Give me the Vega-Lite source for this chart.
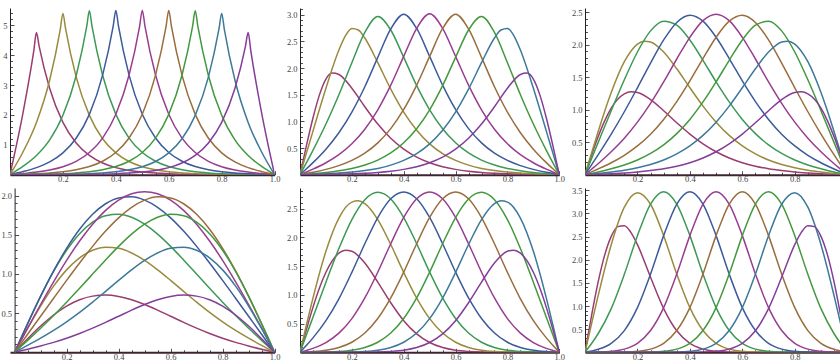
{
"$schema": "https://vega.github.io/schema/vega-lite/v6.json",
"background": "white",
"padding": {"left": 0, "top": 5, "right": 0, "bottom": 0},
"bounds": "flush",
"columns": 3,
"spacing": {"row": 13, "column": 25},
"config": {
  "view": {"stroke": null},
  "axis": {"grid": false, "title": null, "domainColor": "#222222", "tickColor": "#222222", "domainWidth": 1, "tickWidth": 0.8, "labelFont": "Liberation Serif", "labelFontSize": 8.5, "labelColor": "#444444", "labelFlush": false, "labelOverlap": false, "labelBound": false},
  "axisX": {"domainColor": "#3d2430", "domainWidth": 2, "labelBaseline": "top", "labelPadding": 4},
  "axisY": {"labelPadding": 7}
},
"datasets": {
"p1": [
{"m":1,"x":0,"y":0},{"m":1,"x":0.05,"y":2.109},{"m":1,"x":0.09,"y":4.154},{"m":1,"x":0.1,"y":4.756},{"m":1,"x":0.11,"y":4.303},{"m":1,"x":0.15,"y":2.885},{"m":1,"x":0.2,"y":1.75},{"m":1,"x":0.25,"y":1.061},{"m":1,"x":0.3,"y":0.644},{"m":1,"x":0.35,"y":0.39},{"m":1,"x":0.4,"y":0.237},{"m":1,"x":0.45,"y":0.144},{"m":1,"x":0.5,"y":0.087},{"m":1,"x":0.55,"y":0.053},{"m":1,"x":0.6,"y":0.032},{"m":1,"x":0.65,"y":0.019},{"m":1,"x":0.7,"y":0.012},{"m":1,"x":0.75,"y":0.007},{"m":1,"x":0.8,"y":0.004},{"m":1,"x":0.85,"y":0.003},{"m":1,"x":0.9,"y":0.001},{"m":1,"x":1,"y":0},
{"m":2,"x":0,"y":0},{"m":2,"x":0.05,"y":0.776},{"m":2,"x":0.1,"y":1.75},{"m":2,"x":0.15,"y":3.17},{"m":2,"x":0.19,"y":4.866},{"m":2,"x":0.2,"y":5.4},{"m":2,"x":0.21,"y":4.886},{"m":2,"x":0.25,"y":3.275},{"m":2,"x":0.3,"y":1.987},{"m":2,"x":0.35,"y":1.205},{"m":2,"x":0.4,"y":0.731},{"m":2,"x":0.45,"y":0.443},{"m":2,"x":0.5,"y":0.269},{"m":2,"x":0.55,"y":0.163},{"m":2,"x":0.6,"y":0.099},{"m":2,"x":0.65,"y":0.06},{"m":2,"x":0.7,"y":0.036},{"m":2,"x":0.75,"y":0.022},{"m":2,"x":0.8,"y":0.013},{"m":2,"x":0.85,"y":0.008},{"m":2,"x":0.9,"y":0.004},{"m":2,"x":0.95,"y":0.002},{"m":2,"x":1,"y":0},
{"m":3,"x":0,"y":0},{"m":3,"x":0.05,"y":0.285},{"m":3,"x":0.1,"y":0.644},{"m":3,"x":0.15,"y":1.166},{"m":3,"x":0.2,"y":1.987},{"m":3,"x":0.25,"y":3.314},{"m":3,"x":0.29,"y":4.962},{"m":3,"x":0.3,"y":5.487},{"m":3,"x":0.31,"y":4.965},{"m":3,"x":0.35,"y":3.328},{"m":3,"x":0.4,"y":2.019},{"m":3,"x":0.45,"y":1.224},{"m":3,"x":0.5,"y":0.743},{"m":3,"x":0.55,"y":0.45},{"m":3,"x":0.6,"y":0.273},{"m":3,"x":0.65,"y":0.166},{"m":3,"x":0.7,"y":0.1},{"m":3,"x":0.75,"y":0.061},{"m":3,"x":0.8,"y":0.036},{"m":3,"x":0.85,"y":0.021},{"m":3,"x":0.9,"y":0.012},{"m":3,"x":0.95,"y":0.005},{"m":3,"x":1,"y":0},
{"m":4,"x":0,"y":0},{"m":4,"x":0.05,"y":0.105},{"m":4,"x":0.1,"y":0.237},{"m":4,"x":0.15,"y":0.429},{"m":4,"x":0.2,"y":0.731},{"m":4,"x":0.25,"y":1.219},{"m":4,"x":0.3,"y":2.019},{"m":4,"x":0.35,"y":3.333},{"m":4,"x":0.39,"y":4.976},{"m":4,"x":0.4,"y":5.499},{"m":4,"x":0.41,"y":4.976},{"m":4,"x":0.45,"y":3.335},{"m":4,"x":0.5,"y":2.023},{"m":4,"x":0.55,"y":1.227},{"m":4,"x":0.6,"y":0.744},{"m":4,"x":0.65,"y":0.451},{"m":4,"x":0.7,"y":0.273},{"m":4,"x":0.75,"y":0.165},{"m":4,"x":0.8,"y":0.099},{"m":4,"x":0.85,"y":0.058},{"m":4,"x":0.9,"y":0.032},{"m":4,"x":0.95,"y":0.014},{"m":4,"x":1,"y":0},
{"m":5,"x":0,"y":0},{"m":5,"x":0.05,"y":0.039},{"m":5,"x":0.1,"y":0.087},{"m":5,"x":0.15,"y":0.158},{"m":5,"x":0.2,"y":0.269},{"m":5,"x":0.25,"y":0.448},{"m":5,"x":0.3,"y":0.743},{"m":5,"x":0.35,"y":1.226},{"m":5,"x":0.4,"y":2.023},{"m":5,"x":0.45,"y":3.336},{"m":5,"x":0.49,"y":4.977},{"m":5,"x":0.5,"y":5.5},{"m":5,"x":0.51,"y":4.977},{"m":5,"x":0.55,"y":3.336},{"m":5,"x":0.6,"y":2.023},{"m":5,"x":0.65,"y":1.226},{"m":5,"x":0.7,"y":0.743},{"m":5,"x":0.75,"y":0.448},{"m":5,"x":0.8,"y":0.269},{"m":5,"x":0.85,"y":0.158},{"m":5,"x":0.9,"y":0.087},{"m":5,"x":0.95,"y":0.039},{"m":5,"x":1,"y":0},
{"m":6,"x":0,"y":0},{"m":6,"x":0.05,"y":0.014},{"m":6,"x":0.1,"y":0.032},{"m":6,"x":0.15,"y":0.058},{"m":6,"x":0.2,"y":0.099},{"m":6,"x":0.25,"y":0.165},{"m":6,"x":0.3,"y":0.273},{"m":6,"x":0.35,"y":0.451},{"m":6,"x":0.4,"y":0.744},{"m":6,"x":0.45,"y":1.227},{"m":6,"x":0.5,"y":2.023},{"m":6,"x":0.55,"y":3.335},{"m":6,"x":0.59,"y":4.976},{"m":6,"x":0.6,"y":5.499},{"m":6,"x":0.61,"y":4.976},{"m":6,"x":0.65,"y":3.333},{"m":6,"x":0.7,"y":2.019},{"m":6,"x":0.75,"y":1.219},{"m":6,"x":0.8,"y":0.731},{"m":6,"x":0.85,"y":0.429},{"m":6,"x":0.9,"y":0.237},{"m":6,"x":0.95,"y":0.105},{"m":6,"x":1,"y":0},
{"m":7,"x":0,"y":0},{"m":7,"x":0.05,"y":0.005},{"m":7,"x":0.1,"y":0.012},{"m":7,"x":0.15,"y":0.021},{"m":7,"x":0.2,"y":0.036},{"m":7,"x":0.25,"y":0.061},{"m":7,"x":0.3,"y":0.1},{"m":7,"x":0.35,"y":0.166},{"m":7,"x":0.4,"y":0.273},{"m":7,"x":0.45,"y":0.45},{"m":7,"x":0.5,"y":0.743},{"m":7,"x":0.55,"y":1.224},{"m":7,"x":0.6,"y":2.019},{"m":7,"x":0.65,"y":3.328},{"m":7,"x":0.69,"y":4.965},{"m":7,"x":0.7,"y":5.487},{"m":7,"x":0.71,"y":4.962},{"m":7,"x":0.75,"y":3.314},{"m":7,"x":0.8,"y":1.987},{"m":7,"x":0.85,"y":1.166},{"m":7,"x":0.9,"y":0.644},{"m":7,"x":0.95,"y":0.285},{"m":7,"x":1,"y":0},
{"m":8,"x":0,"y":0},{"m":8,"x":0.05,"y":0.002},{"m":8,"x":0.1,"y":0.004},{"m":8,"x":0.15,"y":0.008},{"m":8,"x":0.2,"y":0.013},{"m":8,"x":0.25,"y":0.022},{"m":8,"x":0.3,"y":0.036},{"m":8,"x":0.35,"y":0.06},{"m":8,"x":0.4,"y":0.099},{"m":8,"x":0.45,"y":0.163},{"m":8,"x":0.5,"y":0.269},{"m":8,"x":0.55,"y":0.443},{"m":8,"x":0.6,"y":0.731},{"m":8,"x":0.65,"y":1.205},{"m":8,"x":0.7,"y":1.987},{"m":8,"x":0.75,"y":3.275},{"m":8,"x":0.79,"y":4.886},{"m":8,"x":0.8,"y":5.4},{"m":8,"x":0.81,"y":4.866},{"m":8,"x":0.85,"y":3.17},{"m":8,"x":0.9,"y":1.75},{"m":8,"x":0.95,"y":0.776},{"m":8,"x":1,"y":0},
{"m":9,"x":0,"y":0},{"m":9,"x":0.1,"y":0.001},{"m":9,"x":0.15,"y":0.003},{"m":9,"x":0.2,"y":0.004},{"m":9,"x":0.25,"y":0.007},{"m":9,"x":0.3,"y":0.012},{"m":9,"x":0.35,"y":0.019},{"m":9,"x":0.4,"y":0.032},{"m":9,"x":0.45,"y":0.053},{"m":9,"x":0.5,"y":0.087},{"m":9,"x":0.55,"y":0.144},{"m":9,"x":0.6,"y":0.237},{"m":9,"x":0.65,"y":0.39},{"m":9,"x":0.7,"y":0.644},{"m":9,"x":0.75,"y":1.061},{"m":9,"x":0.8,"y":1.75},{"m":9,"x":0.85,"y":2.885},{"m":9,"x":0.89,"y":4.303},{"m":9,"x":0.9,"y":4.756},{"m":9,"x":0.91,"y":4.154},{"m":9,"x":0.95,"y":2.109},{"m":9,"x":1,"y":0}
],
"p2": [
{"m":1,"x":0,"y":0},{"m":1,"x":0.025,"y":0.55},{"m":1,"x":0.05,"y":1.063},{"m":1,"x":0.075,"y":1.497},{"m":1,"x":0.1,"y":1.794},{"m":1,"x":0.125,"y":1.905},{"m":1,"x":0.15,"y":1.88},{"m":1,"x":0.2,"y":1.621},{"m":1,"x":0.25,"y":1.274},{"m":1,"x":0.3,"y":0.95},{"m":1,"x":0.35,"y":0.683},{"m":1,"x":0.4,"y":0.479},{"m":1,"x":0.45,"y":0.33},{"m":1,"x":0.5,"y":0.224},{"m":1,"x":0.55,"y":0.15},{"m":1,"x":0.6,"y":0.1},{"m":1,"x":0.65,"y":0.066},{"m":1,"x":0.7,"y":0.043},{"m":1,"x":0.75,"y":0.028},{"m":1,"x":0.8,"y":0.018},{"m":1,"x":0.85,"y":0.012},{"m":1,"x":0.9,"y":0.006},{"m":1,"x":0.95,"y":0.002},{"m":1,"x":1,"y":0},
{"m":2,"x":0,"y":0},{"m":2,"x":0.025,"y":0.409},{"m":2,"x":0.05,"y":0.817},{"m":2,"x":0.1,"y":1.621},{"m":2,"x":0.15,"y":2.337},{"m":2,"x":0.175,"y":2.603},{"m":2,"x":0.2,"y":2.743},{"m":2,"x":0.225,"y":2.714},{"m":2,"x":0.25,"y":2.563},{"m":2,"x":0.3,"y":2.1},{"m":2,"x":0.35,"y":1.604},{"m":2,"x":0.4,"y":1.174},{"m":2,"x":0.45,"y":0.834},{"m":2,"x":0.5,"y":0.579},{"m":2,"x":0.55,"y":0.396},{"m":2,"x":0.6,"y":0.268},{"m":2,"x":0.65,"y":0.179},{"m":2,"x":0.7,"y":0.118},{"m":2,"x":0.75,"y":0.077},{"m":2,"x":0.8,"y":0.05},{"m":2,"x":0.85,"y":0.031},{"m":2,"x":0.9,"y":0.018},{"m":2,"x":0.95,"y":0.008},{"m":2,"x":0.975,"y":0.004},{"m":2,"x":1,"y":0},
{"m":3,"x":0,"y":0},{"m":3,"x":0.025,"y":0.226},{"m":3,"x":0.05,"y":0.457},{"m":3,"x":0.1,"y":0.95},{"m":3,"x":0.15,"y":1.5},{"m":3,"x":0.2,"y":2.1},{"m":3,"x":0.25,"y":2.667},{"m":3,"x":0.3,"y":2.967},{"m":3,"x":0.35,"y":2.713},{"m":3,"x":0.4,"y":2.2},{"m":3,"x":0.45,"y":1.67},{"m":3,"x":0.5,"y":1.217},{"m":3,"x":0.55,"y":0.862},{"m":3,"x":0.6,"y":0.598},{"m":3,"x":0.65,"y":0.407},{"m":3,"x":0.7,"y":0.274},{"m":3,"x":0.75,"y":0.181},{"m":3,"x":0.8,"y":0.118},{"m":3,"x":0.85,"y":0.075},{"m":3,"x":0.9,"y":0.043},{"m":3,"x":0.95,"y":0.02},{"m":3,"x":0.975,"y":0.01},{"m":3,"x":1,"y":0},
{"m":4,"x":0,"y":0},{"m":4,"x":0.025,"y":0.111},{"m":4,"x":0.05,"y":0.226},{"m":4,"x":0.1,"y":0.479},{"m":4,"x":0.15,"y":0.787},{"m":4,"x":0.2,"y":1.174},{"m":4,"x":0.25,"y":1.65},{"m":4,"x":0.3,"y":2.2},{"m":4,"x":0.35,"y":2.733},{"m":4,"x":0.4,"y":3.011},{"m":4,"x":0.45,"y":2.742},{"m":4,"x":0.5,"y":2.218},{"m":4,"x":0.55,"y":1.681},{"m":4,"x":0.6,"y":1.223},{"m":4,"x":0.65,"y":0.864},{"m":4,"x":0.7,"y":0.597},{"m":4,"x":0.75,"y":0.405},{"m":4,"x":0.8,"y":0.268},{"m":4,"x":0.85,"y":0.17},{"m":4,"x":0.9,"y":0.1},{"m":4,"x":0.95,"y":0.046},{"m":4,"x":0.975,"y":0.023},{"m":4,"x":1,"y":0},
{"m":5,"x":0,"y":0},{"m":5,"x":0.025,"y":0.051},{"m":5,"x":0.05,"y":0.104},{"m":5,"x":0.1,"y":0.224},{"m":5,"x":0.15,"y":0.376},{"m":5,"x":0.2,"y":0.579},{"m":5,"x":0.25,"y":0.853},{"m":5,"x":0.3,"y":1.217},{"m":5,"x":0.35,"y":1.679},{"m":5,"x":0.4,"y":2.218},{"m":5,"x":0.45,"y":2.744},{"m":5,"x":0.5,"y":3.017},{"m":5,"x":0.55,"y":2.744},{"m":5,"x":0.6,"y":2.218},{"m":5,"x":0.65,"y":1.679},{"m":5,"x":0.7,"y":1.217},{"m":5,"x":0.75,"y":0.853},{"m":5,"x":0.8,"y":0.579},{"m":5,"x":0.85,"y":0.376},{"m":5,"x":0.9,"y":0.224},{"m":5,"x":0.95,"y":0.104},{"m":5,"x":0.975,"y":0.051},{"m":5,"x":1,"y":0},
{"m":6,"x":0,"y":0},{"m":6,"x":0.025,"y":0.023},{"m":6,"x":0.05,"y":0.046},{"m":6,"x":0.1,"y":0.1},{"m":6,"x":0.15,"y":0.17},{"m":6,"x":0.2,"y":0.268},{"m":6,"x":0.25,"y":0.405},{"m":6,"x":0.3,"y":0.597},{"m":6,"x":0.35,"y":0.864},{"m":6,"x":0.4,"y":1.223},{"m":6,"x":0.45,"y":1.681},{"m":6,"x":0.5,"y":2.218},{"m":6,"x":0.55,"y":2.742},{"m":6,"x":0.6,"y":3.011},{"m":6,"x":0.65,"y":2.733},{"m":6,"x":0.7,"y":2.2},{"m":6,"x":0.75,"y":1.65},{"m":6,"x":0.8,"y":1.174},{"m":6,"x":0.85,"y":0.787},{"m":6,"x":0.9,"y":0.479},{"m":6,"x":0.95,"y":0.226},{"m":6,"x":0.975,"y":0.111},{"m":6,"x":1,"y":0},
{"m":7,"x":0,"y":0},{"m":7,"x":0.025,"y":0.01},{"m":7,"x":0.05,"y":0.02},{"m":7,"x":0.1,"y":0.043},{"m":7,"x":0.15,"y":0.075},{"m":7,"x":0.2,"y":0.118},{"m":7,"x":0.25,"y":0.181},{"m":7,"x":0.3,"y":0.274},{"m":7,"x":0.35,"y":0.407},{"m":7,"x":0.4,"y":0.598},{"m":7,"x":0.45,"y":0.862},{"m":7,"x":0.5,"y":1.217},{"m":7,"x":0.55,"y":1.67},{"m":7,"x":0.6,"y":2.2},{"m":7,"x":0.65,"y":2.713},{"m":7,"x":0.7,"y":2.967},{"m":7,"x":0.75,"y":2.667},{"m":7,"x":0.8,"y":2.1},{"m":7,"x":0.85,"y":1.5},{"m":7,"x":0.9,"y":0.95},{"m":7,"x":0.95,"y":0.457},{"m":7,"x":0.975,"y":0.226},{"m":7,"x":1,"y":0},
{"m":8,"x":0,"y":0},{"m":8,"x":0.025,"y":0.004},{"m":8,"x":0.05,"y":0.008},{"m":8,"x":0.1,"y":0.018},{"m":8,"x":0.15,"y":0.031},{"m":8,"x":0.2,"y":0.05},{"m":8,"x":0.25,"y":0.077},{"m":8,"x":0.3,"y":0.118},{"m":8,"x":0.35,"y":0.179},{"m":8,"x":0.4,"y":0.268},{"m":8,"x":0.45,"y":0.396},{"m":8,"x":0.5,"y":0.579},{"m":8,"x":0.55,"y":0.834},{"m":8,"x":0.6,"y":1.174},{"m":8,"x":0.65,"y":1.604},{"m":8,"x":0.7,"y":2.1},{"m":8,"x":0.75,"y":2.563},{"m":8,"x":0.775,"y":2.714},{"m":8,"x":0.8,"y":2.743},{"m":8,"x":0.825,"y":2.603},{"m":8,"x":0.85,"y":2.337},{"m":8,"x":0.9,"y":1.621},{"m":8,"x":0.95,"y":0.817},{"m":8,"x":0.975,"y":0.409},{"m":8,"x":1,"y":0},
{"m":9,"x":0,"y":0},{"m":9,"x":0.05,"y":0.002},{"m":9,"x":0.1,"y":0.006},{"m":9,"x":0.15,"y":0.012},{"m":9,"x":0.2,"y":0.018},{"m":9,"x":0.25,"y":0.028},{"m":9,"x":0.3,"y":0.043},{"m":9,"x":0.35,"y":0.066},{"m":9,"x":0.4,"y":0.1},{"m":9,"x":0.45,"y":0.15},{"m":9,"x":0.5,"y":0.224},{"m":9,"x":0.55,"y":0.33},{"m":9,"x":0.6,"y":0.479},{"m":9,"x":0.65,"y":0.683},{"m":9,"x":0.7,"y":0.95},{"m":9,"x":0.75,"y":1.274},{"m":9,"x":0.8,"y":1.621},{"m":9,"x":0.85,"y":1.88},{"m":9,"x":0.875,"y":1.905},{"m":9,"x":0.9,"y":1.794},{"m":9,"x":0.925,"y":1.497},{"m":9,"x":0.95,"y":1.063},{"m":9,"x":0.975,"y":0.55},{"m":9,"x":1,"y":0}
],
"p3": [
{"m":1,"x":0,"y":0},{"m":1,"x":0.025,"y":0.301},{"m":1,"x":0.05,"y":0.583},{"m":1,"x":0.075,"y":0.829},{"m":1,"x":0.1,"y":1.026},{"m":1,"x":0.15,"y":1.245},{"m":1,"x":0.175,"y":1.276},{"m":1,"x":0.2,"y":1.264},{"m":1,"x":0.25,"y":1.156},{"m":1,"x":0.3,"y":0.985},{"m":1,"x":0.35,"y":0.799},{"m":1,"x":0.4,"y":0.625},{"m":1,"x":0.45,"y":0.475},{"m":1,"x":0.5,"y":0.353},{"m":1,"x":0.55,"y":0.257},{"m":1,"x":0.6,"y":0.184},{"m":1,"x":0.65,"y":0.131},{"m":1,"x":0.7,"y":0.092},{"m":1,"x":0.75,"y":0.064},{"m":1,"x":0.8,"y":0.042},{"m":1,"x":0.85,"y":0.027},{"m":1,"x":0.9,"y":0.015},{"m":1,"x":0.95,"y":0.006},{"m":1,"x":0.975,"y":0.002},{"m":1,"x":1,"y":0},
{"m":2,"x":0,"y":0},{"m":2,"x":0.025,"y":0.334},{"m":2,"x":0.05,"y":0.662},{"m":2,"x":0.1,"y":1.264},{"m":2,"x":0.15,"y":1.739},{"m":2,"x":0.2,"y":2.011},{"m":2,"x":0.225,"y":2.056},{"m":2,"x":0.25,"y":2.044},{"m":2,"x":0.3,"y":1.889},{"m":2,"x":0.35,"y":1.63},{"m":2,"x":0.4,"y":1.338},{"m":2,"x":0.45,"y":1.056},{"m":2,"x":0.5,"y":0.809},{"m":2,"x":0.55,"y":0.605},{"m":2,"x":0.6,"y":0.444},{"m":2,"x":0.65,"y":0.321},{"m":2,"x":0.7,"y":0.226},{"m":2,"x":0.75,"y":0.157},{"m":2,"x":0.8,"y":0.107},{"m":2,"x":0.85,"y":0.07},{"m":2,"x":0.9,"y":0.042},{"m":2,"x":0.95,"y":0.019},{"m":2,"x":0.975,"y":0.009},{"m":2,"x":1,"y":0},
{"m":3,"x":0,"y":0},{"m":3,"x":0.025,"y":0.247},{"m":3,"x":0.05,"y":0.494},{"m":3,"x":0.1,"y":0.985},{"m":3,"x":0.15,"y":1.461},{"m":3,"x":0.2,"y":1.889},{"m":3,"x":0.25,"y":2.214},{"m":3,"x":0.3,"y":2.363},{"m":3,"x":0.35,"y":2.301},{"m":3,"x":0.4,"y":2.074},{"m":3,"x":0.45,"y":1.761},{"m":3,"x":0.5,"y":1.429},{"m":3,"x":0.55,"y":1.12},{"m":3,"x":0.6,"y":0.851},{"m":3,"x":0.65,"y":0.632},{"m":3,"x":0.7,"y":0.459},{"m":3,"x":0.75,"y":0.327},{"m":3,"x":0.8,"y":0.226},{"m":3,"x":0.85,"y":0.15},{"m":3,"x":0.9,"y":0.091},{"m":3,"x":0.95,"y":0.042},{"m":3,"x":0.975,"y":0.021},{"m":3,"x":1,"y":0},
{"m":4,"x":0,"y":0},{"m":4,"x":0.025,"y":0.152},{"m":4,"x":0.05,"y":0.305},{"m":4,"x":0.1,"y":0.625},{"m":4,"x":0.15,"y":0.969},{"m":4,"x":0.2,"y":1.338},{"m":4,"x":0.25,"y":1.718},{"m":4,"x":0.3,"y":2.074},{"m":4,"x":0.35,"y":2.344},{"m":4,"x":0.4,"y":2.455},{"m":4,"x":0.45,"y":2.363},{"m":4,"x":0.5,"y":2.115},{"m":4,"x":0.55,"y":1.788},{"m":4,"x":0.6,"y":1.444},{"m":4,"x":0.65,"y":1.126},{"m":4,"x":0.7,"y":0.851},{"m":4,"x":0.75,"y":0.624},{"m":4,"x":0.8,"y":0.443},{"m":4,"x":0.85,"y":0.299},{"m":4,"x":0.9,"y":0.184},{"m":4,"x":0.95,"y":0.088},{"m":4,"x":0.975,"y":0.043},{"m":4,"x":1,"y":0},
{"m":5,"x":0,"y":0},{"m":5,"x":0.025,"y":0.084},{"m":5,"x":0.05,"y":0.169},{"m":5,"x":0.1,"y":0.353},{"m":5,"x":0.15,"y":0.562},{"m":5,"x":0.2,"y":0.809},{"m":5,"x":0.25,"y":1.099},{"m":5,"x":0.3,"y":1.429},{"m":5,"x":0.35,"y":1.781},{"m":5,"x":0.4,"y":2.115},{"m":5,"x":0.45,"y":2.371},{"m":5,"x":0.5,"y":2.47},{"m":5,"x":0.55,"y":2.371},{"m":5,"x":0.6,"y":2.115},{"m":5,"x":0.65,"y":1.781},{"m":5,"x":0.7,"y":1.429},{"m":5,"x":0.75,"y":1.099},{"m":5,"x":0.8,"y":0.809},{"m":5,"x":0.85,"y":0.562},{"m":5,"x":0.9,"y":0.353},{"m":5,"x":0.95,"y":0.169},{"m":5,"x":0.975,"y":0.084},{"m":5,"x":1,"y":0},
{"m":6,"x":0,"y":0},{"m":6,"x":0.025,"y":0.043},{"m":6,"x":0.05,"y":0.088},{"m":6,"x":0.1,"y":0.184},{"m":6,"x":0.15,"y":0.299},{"m":6,"x":0.2,"y":0.443},{"m":6,"x":0.25,"y":0.624},{"m":6,"x":0.3,"y":0.851},{"m":6,"x":0.35,"y":1.126},{"m":6,"x":0.4,"y":1.444},{"m":6,"x":0.45,"y":1.788},{"m":6,"x":0.5,"y":2.115},{"m":6,"x":0.55,"y":2.363},{"m":6,"x":0.6,"y":2.455},{"m":6,"x":0.65,"y":2.344},{"m":6,"x":0.7,"y":2.074},{"m":6,"x":0.75,"y":1.718},{"m":6,"x":0.8,"y":1.338},{"m":6,"x":0.85,"y":0.969},{"m":6,"x":0.9,"y":0.625},{"m":6,"x":0.95,"y":0.305},{"m":6,"x":0.975,"y":0.152},{"m":6,"x":1,"y":0},
{"m":7,"x":0,"y":0},{"m":7,"x":0.025,"y":0.021},{"m":7,"x":0.05,"y":0.042},{"m":7,"x":0.1,"y":0.091},{"m":7,"x":0.15,"y":0.15},{"m":7,"x":0.2,"y":0.226},{"m":7,"x":0.25,"y":0.327},{"m":7,"x":0.3,"y":0.459},{"m":7,"x":0.35,"y":0.632},{"m":7,"x":0.4,"y":0.851},{"m":7,"x":0.45,"y":1.12},{"m":7,"x":0.5,"y":1.429},{"m":7,"x":0.55,"y":1.761},{"m":7,"x":0.6,"y":2.074},{"m":7,"x":0.65,"y":2.301},{"m":7,"x":0.7,"y":2.363},{"m":7,"x":0.75,"y":2.214},{"m":7,"x":0.8,"y":1.889},{"m":7,"x":0.85,"y":1.461},{"m":7,"x":0.9,"y":0.985},{"m":7,"x":0.95,"y":0.494},{"m":7,"x":0.975,"y":0.247},{"m":7,"x":1,"y":0},
{"m":8,"x":0,"y":0},{"m":8,"x":0.025,"y":0.009},{"m":8,"x":0.05,"y":0.019},{"m":8,"x":0.1,"y":0.042},{"m":8,"x":0.15,"y":0.07},{"m":8,"x":0.2,"y":0.107},{"m":8,"x":0.25,"y":0.157},{"m":8,"x":0.3,"y":0.226},{"m":8,"x":0.35,"y":0.321},{"m":8,"x":0.4,"y":0.444},{"m":8,"x":0.45,"y":0.605},{"m":8,"x":0.5,"y":0.809},{"m":8,"x":0.55,"y":1.056},{"m":8,"x":0.6,"y":1.338},{"m":8,"x":0.65,"y":1.63},{"m":8,"x":0.7,"y":1.889},{"m":8,"x":0.75,"y":2.044},{"m":8,"x":0.775,"y":2.056},{"m":8,"x":0.8,"y":2.011},{"m":8,"x":0.85,"y":1.739},{"m":8,"x":0.9,"y":1.264},{"m":8,"x":0.95,"y":0.662},{"m":8,"x":0.975,"y":0.334},{"m":8,"x":1,"y":0},
{"m":9,"x":0,"y":0},{"m":9,"x":0.025,"y":0.002},{"m":9,"x":0.05,"y":0.006},{"m":9,"x":0.1,"y":0.015},{"m":9,"x":0.15,"y":0.027},{"m":9,"x":0.2,"y":0.042},{"m":9,"x":0.25,"y":0.064},{"m":9,"x":0.3,"y":0.092},{"m":9,"x":0.35,"y":0.131},{"m":9,"x":0.4,"y":0.184},{"m":9,"x":0.45,"y":0.257},{"m":9,"x":0.5,"y":0.353},{"m":9,"x":0.55,"y":0.475},{"m":9,"x":0.6,"y":0.625},{"m":9,"x":0.65,"y":0.799},{"m":9,"x":0.7,"y":0.985},{"m":9,"x":0.75,"y":1.156},{"m":9,"x":0.8,"y":1.264},{"m":9,"x":0.825,"y":1.276},{"m":9,"x":0.85,"y":1.245},{"m":9,"x":0.9,"y":1.026},{"m":9,"x":0.925,"y":0.829},{"m":9,"x":0.95,"y":0.583},{"m":9,"x":0.975,"y":0.301},{"m":9,"x":1,"y":0}
],
"p4": [
{"m":1,"x":0,"y":0},{"m":1,"x":0.05,"y":0.173},{"m":1,"x":0.1,"y":0.335},{"m":1,"x":0.15,"y":0.476},{"m":1,"x":0.2,"y":0.59},{"m":1,"x":0.25,"y":0.671},{"m":1,"x":0.3,"y":0.717},{"m":1,"x":0.35,"y":0.73},{"m":1,"x":0.4,"y":0.713},{"m":1,"x":0.45,"y":0.67},{"m":1,"x":0.5,"y":0.61},{"m":1,"x":0.55,"y":0.538},{"m":1,"x":0.6,"y":0.46},{"m":1,"x":0.65,"y":0.382},{"m":1,"x":0.7,"y":0.308},{"m":1,"x":0.75,"y":0.24},{"m":1,"x":0.8,"y":0.18},{"m":1,"x":0.85,"y":0.127},{"m":1,"x":0.9,"y":0.081},{"m":1,"x":0.95,"y":0.039},{"m":1,"x":1,"y":0},
{"m":2,"x":0,"y":0},{"m":2,"x":0.05,"y":0.304},{"m":2,"x":0.1,"y":0.59},{"m":2,"x":0.15,"y":0.844},{"m":2,"x":0.2,"y":1.052},{"m":2,"x":0.25,"y":1.206},{"m":2,"x":0.3,"y":1.302},{"m":2,"x":0.35,"y":1.341},{"m":2,"x":0.4,"y":1.327},{"m":2,"x":0.45,"y":1.268},{"m":2,"x":0.5,"y":1.173},{"m":2,"x":0.55,"y":1.053},{"m":2,"x":0.6,"y":0.918},{"m":2,"x":0.65,"y":0.778},{"m":2,"x":0.7,"y":0.64},{"m":2,"x":0.75,"y":0.509},{"m":2,"x":0.8,"y":0.389},{"m":2,"x":0.85,"y":0.279},{"m":2,"x":0.9,"y":0.18},{"m":2,"x":0.95,"y":0.088},{"m":2,"x":1,"y":0},
{"m":3,"x":0,"y":0},{"m":3,"x":0.05,"y":0.367},{"m":3,"x":0.1,"y":0.717},{"m":3,"x":0.15,"y":1.034},{"m":3,"x":0.2,"y":1.302},{"m":3,"x":0.25,"y":1.514},{"m":3,"x":0.3,"y":1.662},{"m":3,"x":0.35,"y":1.744},{"m":3,"x":0.4,"y":1.762},{"m":3,"x":0.45,"y":1.723},{"m":3,"x":0.5,"y":1.635},{"m":3,"x":0.55,"y":1.508},{"m":3,"x":0.6,"y":1.352},{"m":3,"x":0.65,"y":1.179},{"m":3,"x":0.7,"y":0.998},{"m":3,"x":0.75,"y":0.817},{"m":3,"x":0.8,"y":0.64},{"m":3,"x":0.85,"y":0.47},{"m":3,"x":0.9,"y":0.308},{"m":3,"x":0.95,"y":0.152},{"m":3,"x":1,"y":0},
{"m":4,"x":0,"y":0},{"m":4,"x":0.05,"y":0.363},{"m":4,"x":0.1,"y":0.713},{"m":4,"x":0.15,"y":1.038},{"m":4,"x":0.2,"y":1.327},{"m":4,"x":0.25,"y":1.571},{"m":4,"x":0.3,"y":1.762},{"m":4,"x":0.35,"y":1.896},{"m":4,"x":0.4,"y":1.97},{"m":4,"x":0.45,"y":1.984},{"m":4,"x":0.5,"y":1.942},{"m":4,"x":0.55,"y":1.85},{"m":4,"x":0.6,"y":1.716},{"m":4,"x":0.65,"y":1.547},{"m":4,"x":0.7,"y":1.352},{"m":4,"x":0.75,"y":1.14},{"m":4,"x":0.8,"y":0.918},{"m":4,"x":0.85,"y":0.69},{"m":4,"x":0.9,"y":0.46},{"m":4,"x":0.95,"y":0.23},{"m":4,"x":1,"y":0},
{"m":5,"x":0,"y":0},{"m":5,"x":0.05,"y":0.308},{"m":5,"x":0.1,"y":0.61},{"m":5,"x":0.15,"y":0.9},{"m":5,"x":0.2,"y":1.173},{"m":5,"x":0.25,"y":1.42},{"m":5,"x":0.3,"y":1.635},{"m":5,"x":0.35,"y":1.811},{"m":5,"x":0.4,"y":1.942},{"m":5,"x":0.45,"y":2.023},{"m":5,"x":0.5,"y":2.05},{"m":5,"x":0.55,"y":2.023},{"m":5,"x":0.6,"y":1.942},{"m":5,"x":0.65,"y":1.811},{"m":5,"x":0.7,"y":1.635},{"m":5,"x":0.75,"y":1.42},{"m":5,"x":0.8,"y":1.173},{"m":5,"x":0.85,"y":0.9},{"m":5,"x":0.9,"y":0.61},{"m":5,"x":0.95,"y":0.308},{"m":5,"x":1,"y":0},
{"m":6,"x":0,"y":0},{"m":6,"x":0.05,"y":0.23},{"m":6,"x":0.1,"y":0.46},{"m":6,"x":0.15,"y":0.69},{"m":6,"x":0.2,"y":0.918},{"m":6,"x":0.25,"y":1.14},{"m":6,"x":0.3,"y":1.352},{"m":6,"x":0.35,"y":1.547},{"m":6,"x":0.4,"y":1.716},{"m":6,"x":0.45,"y":1.85},{"m":6,"x":0.5,"y":1.942},{"m":6,"x":0.55,"y":1.984},{"m":6,"x":0.6,"y":1.97},{"m":6,"x":0.65,"y":1.896},{"m":6,"x":0.7,"y":1.762},{"m":6,"x":0.75,"y":1.571},{"m":6,"x":0.8,"y":1.327},{"m":6,"x":0.85,"y":1.038},{"m":6,"x":0.9,"y":0.713},{"m":6,"x":0.95,"y":0.363},{"m":6,"x":1,"y":0},
{"m":7,"x":0,"y":0},{"m":7,"x":0.05,"y":0.152},{"m":7,"x":0.1,"y":0.308},{"m":7,"x":0.15,"y":0.47},{"m":7,"x":0.2,"y":0.64},{"m":7,"x":0.25,"y":0.817},{"m":7,"x":0.3,"y":0.998},{"m":7,"x":0.35,"y":1.179},{"m":7,"x":0.4,"y":1.352},{"m":7,"x":0.45,"y":1.508},{"m":7,"x":0.5,"y":1.635},{"m":7,"x":0.55,"y":1.723},{"m":7,"x":0.6,"y":1.762},{"m":7,"x":0.65,"y":1.744},{"m":7,"x":0.7,"y":1.662},{"m":7,"x":0.75,"y":1.514},{"m":7,"x":0.8,"y":1.302},{"m":7,"x":0.85,"y":1.034},{"m":7,"x":0.9,"y":0.717},{"m":7,"x":0.95,"y":0.367},{"m":7,"x":1,"y":0},
{"m":8,"x":0,"y":0},{"m":8,"x":0.05,"y":0.088},{"m":8,"x":0.1,"y":0.18},{"m":8,"x":0.15,"y":0.279},{"m":8,"x":0.2,"y":0.389},{"m":8,"x":0.25,"y":0.509},{"m":8,"x":0.3,"y":0.64},{"m":8,"x":0.35,"y":0.778},{"m":8,"x":0.4,"y":0.918},{"m":8,"x":0.45,"y":1.053},{"m":8,"x":0.5,"y":1.173},{"m":8,"x":0.55,"y":1.268},{"m":8,"x":0.6,"y":1.327},{"m":8,"x":0.65,"y":1.341},{"m":8,"x":0.7,"y":1.302},{"m":8,"x":0.75,"y":1.206},{"m":8,"x":0.8,"y":1.052},{"m":8,"x":0.85,"y":0.844},{"m":8,"x":0.9,"y":0.59},{"m":8,"x":0.95,"y":0.304},{"m":8,"x":1,"y":0},
{"m":9,"x":0,"y":0},{"m":9,"x":0.05,"y":0.039},{"m":9,"x":0.1,"y":0.081},{"m":9,"x":0.15,"y":0.127},{"m":9,"x":0.2,"y":0.18},{"m":9,"x":0.25,"y":0.24},{"m":9,"x":0.3,"y":0.308},{"m":9,"x":0.35,"y":0.382},{"m":9,"x":0.4,"y":0.46},{"m":9,"x":0.45,"y":0.538},{"m":9,"x":0.5,"y":0.61},{"m":9,"x":0.55,"y":0.67},{"m":9,"x":0.6,"y":0.713},{"m":9,"x":0.65,"y":0.73},{"m":9,"x":0.7,"y":0.717},{"m":9,"x":0.75,"y":0.671},{"m":9,"x":0.8,"y":0.59},{"m":9,"x":0.85,"y":0.476},{"m":9,"x":0.9,"y":0.335},{"m":9,"x":0.95,"y":0.173},{"m":9,"x":1,"y":0}
],
"p5": [
{"m":1,"x":0,"y":0},{"m":1,"x":0.025,"y":0.402},{"m":1,"x":0.05,"y":0.782},{"m":1,"x":0.075,"y":1.118},{"m":1,"x":0.1,"y":1.394},{"m":1,"x":0.15,"y":1.726},{"m":1,"x":0.175,"y":1.777},{"m":1,"x":0.2,"y":1.759},{"m":1,"x":0.25,"y":1.555},{"m":1,"x":0.3,"y":1.221},{"m":1,"x":0.35,"y":0.862},{"m":1,"x":0.4,"y":0.551},{"m":1,"x":0.45,"y":0.32},{"m":1,"x":0.5,"y":0.17},{"m":1,"x":0.55,"y":0.082},{"m":1,"x":0.6,"y":0.036},{"m":1,"x":0.65,"y":0.015},{"m":1,"x":0.7,"y":0.005},{"m":1,"x":0.75,"y":0.002},{"m":1,"x":0.8,"y":0.001},{"m":1,"x":0.85,"y":0},{"m":1,"x":1,"y":0},
{"m":2,"x":0,"y":0},{"m":2,"x":0.025,"y":0.48},{"m":2,"x":0.05,"y":0.944},{"m":2,"x":0.1,"y":1.759},{"m":2,"x":0.15,"y":2.337},{"m":2,"x":0.2,"y":2.615},{"m":2,"x":0.225,"y":2.637},{"m":2,"x":0.25,"y":2.588},{"m":2,"x":0.3,"y":2.31},{"m":2,"x":0.35,"y":1.876},{"m":2,"x":0.4,"y":1.391},{"m":2,"x":0.45,"y":0.944},{"m":2,"x":0.5,"y":0.587},{"m":2,"x":0.55,"y":0.335},{"m":2,"x":0.6,"y":0.175},{"m":2,"x":0.65,"y":0.084},{"m":2,"x":0.7,"y":0.037},{"m":2,"x":0.75,"y":0.015},{"m":2,"x":0.8,"y":0.005},{"m":2,"x":0.85,"y":0.002},{"m":2,"x":0.9,"y":0.001},{"m":2,"x":0.95,"y":0},{"m":2,"x":1,"y":0},
{"m":3,"x":0,"y":0},{"m":3,"x":0.025,"y":0.305},{"m":3,"x":0.05,"y":0.611},{"m":3,"x":0.1,"y":1.221},{"m":3,"x":0.15,"y":1.806},{"m":3,"x":0.2,"y":2.31},{"m":3,"x":0.25,"y":2.657},{"m":3,"x":0.3,"y":2.785},{"m":3,"x":0.35,"y":2.67},{"m":3,"x":0.4,"y":2.346},{"m":3,"x":0.45,"y":1.89},{"m":3,"x":0.5,"y":1.396},{"m":3,"x":0.55,"y":0.946},{"m":3,"x":0.6,"y":0.588},{"m":3,"x":0.65,"y":0.335},{"m":3,"x":0.7,"y":0.175},{"m":3,"x":0.75,"y":0.084},{"m":3,"x":0.8,"y":0.037},{"m":3,"x":0.85,"y":0.015},{"m":3,"x":0.9,"y":0.005},{"m":3,"x":0.95,"y":0.002},{"m":3,"x":0.975,"y":0.001},{"m":3,"x":1,"y":0},
{"m":4,"x":0,"y":0},{"m":4,"x":0.025,"y":0.122},{"m":4,"x":0.05,"y":0.251},{"m":4,"x":0.1,"y":0.551},{"m":4,"x":0.15,"y":0.931},{"m":4,"x":0.2,"y":1.391},{"m":4,"x":0.25,"y":1.889},{"m":4,"x":0.3,"y":2.346},{"m":4,"x":0.35,"y":2.672},{"m":4,"x":0.4,"y":2.79},{"m":4,"x":0.45,"y":2.672},{"m":4,"x":0.5,"y":2.347},{"m":4,"x":0.55,"y":1.89},{"m":4,"x":0.6,"y":1.396},{"m":4,"x":0.65,"y":0.946},{"m":4,"x":0.7,"y":0.588},{"m":4,"x":0.75,"y":0.335},{"m":4,"x":0.8,"y":0.175},{"m":4,"x":0.85,"y":0.084},{"m":4,"x":0.9,"y":0.036},{"m":4,"x":0.95,"y":0.013},{"m":4,"x":0.975,"y":0.006},{"m":4,"x":1,"y":0},
{"m":5,"x":0,"y":0},{"m":5,"x":0.025,"y":0.033},{"m":5,"x":0.05,"y":0.069},{"m":5,"x":0.1,"y":0.17},{"m":5,"x":0.15,"y":0.333},{"m":5,"x":0.2,"y":0.587},{"m":5,"x":0.25,"y":0.946},{"m":5,"x":0.3,"y":1.396},{"m":5,"x":0.35,"y":1.89},{"m":5,"x":0.4,"y":2.347},{"m":5,"x":0.45,"y":2.672},{"m":5,"x":0.5,"y":2.79},{"m":5,"x":0.55,"y":2.672},{"m":5,"x":0.6,"y":2.347},{"m":5,"x":0.65,"y":1.89},{"m":5,"x":0.7,"y":1.396},{"m":5,"x":0.75,"y":0.946},{"m":5,"x":0.8,"y":0.587},{"m":5,"x":0.85,"y":0.333},{"m":5,"x":0.9,"y":0.17},{"m":5,"x":0.95,"y":0.069},{"m":5,"x":0.975,"y":0.033},{"m":5,"x":1,"y":0},
{"m":6,"x":0,"y":0},{"m":6,"x":0.025,"y":0.006},{"m":6,"x":0.05,"y":0.013},{"m":6,"x":0.1,"y":0.036},{"m":6,"x":0.15,"y":0.084},{"m":6,"x":0.2,"y":0.175},{"m":6,"x":0.25,"y":0.335},{"m":6,"x":0.3,"y":0.588},{"m":6,"x":0.35,"y":0.946},{"m":6,"x":0.4,"y":1.396},{"m":6,"x":0.45,"y":1.89},{"m":6,"x":0.5,"y":2.347},{"m":6,"x":0.55,"y":2.672},{"m":6,"x":0.6,"y":2.79},{"m":6,"x":0.65,"y":2.672},{"m":6,"x":0.7,"y":2.346},{"m":6,"x":0.75,"y":1.889},{"m":6,"x":0.8,"y":1.391},{"m":6,"x":0.85,"y":0.931},{"m":6,"x":0.9,"y":0.551},{"m":6,"x":0.95,"y":0.251},{"m":6,"x":0.975,"y":0.122},{"m":6,"x":1,"y":0},
{"m":7,"x":0,"y":0},{"m":7,"x":0.025,"y":0.001},{"m":7,"x":0.05,"y":0.002},{"m":7,"x":0.1,"y":0.005},{"m":7,"x":0.15,"y":0.015},{"m":7,"x":0.2,"y":0.037},{"m":7,"x":0.25,"y":0.084},{"m":7,"x":0.3,"y":0.175},{"m":7,"x":0.35,"y":0.335},{"m":7,"x":0.4,"y":0.588},{"m":7,"x":0.45,"y":0.946},{"m":7,"x":0.5,"y":1.396},{"m":7,"x":0.55,"y":1.89},{"m":7,"x":0.6,"y":2.346},{"m":7,"x":0.65,"y":2.67},{"m":7,"x":0.7,"y":2.785},{"m":7,"x":0.75,"y":2.657},{"m":7,"x":0.8,"y":2.31},{"m":7,"x":0.85,"y":1.806},{"m":7,"x":0.9,"y":1.221},{"m":7,"x":0.95,"y":0.611},{"m":7,"x":0.975,"y":0.305},{"m":7,"x":1,"y":0},
{"m":8,"x":0,"y":0},{"m":8,"x":0.05,"y":0},{"m":8,"x":0.1,"y":0.001},{"m":8,"x":0.15,"y":0.002},{"m":8,"x":0.2,"y":0.005},{"m":8,"x":0.25,"y":0.015},{"m":8,"x":0.3,"y":0.037},{"m":8,"x":0.35,"y":0.084},{"m":8,"x":0.4,"y":0.175},{"m":8,"x":0.45,"y":0.335},{"m":8,"x":0.5,"y":0.587},{"m":8,"x":0.55,"y":0.944},{"m":8,"x":0.6,"y":1.391},{"m":8,"x":0.65,"y":1.876},{"m":8,"x":0.7,"y":2.31},{"m":8,"x":0.75,"y":2.588},{"m":8,"x":0.775,"y":2.637},{"m":8,"x":0.8,"y":2.615},{"m":8,"x":0.85,"y":2.337},{"m":8,"x":0.9,"y":1.759},{"m":8,"x":0.95,"y":0.944},{"m":8,"x":0.975,"y":0.48},{"m":8,"x":1,"y":0},
{"m":9,"x":0,"y":0},{"m":9,"x":0.15,"y":0},{"m":9,"x":0.2,"y":0.001},{"m":9,"x":0.25,"y":0.002},{"m":9,"x":0.3,"y":0.005},{"m":9,"x":0.35,"y":0.015},{"m":9,"x":0.4,"y":0.036},{"m":9,"x":0.45,"y":0.082},{"m":9,"x":0.5,"y":0.17},{"m":9,"x":0.55,"y":0.32},{"m":9,"x":0.6,"y":0.551},{"m":9,"x":0.65,"y":0.862},{"m":9,"x":0.7,"y":1.221},{"m":9,"x":0.75,"y":1.555},{"m":9,"x":0.8,"y":1.759},{"m":9,"x":0.825,"y":1.777},{"m":9,"x":0.85,"y":1.726},{"m":9,"x":0.9,"y":1.394},{"m":9,"x":0.925,"y":1.118},{"m":9,"x":0.95,"y":0.782},{"m":9,"x":0.975,"y":0.402},{"m":9,"x":1,"y":0}
],
"p6": [
{"m":1,"x":0,"y":0},{"m":1,"x":0.025,"y":0.794},{"m":1,"x":0.05,"y":1.514},{"m":1,"x":0.075,"y":2.099},{"m":1,"x":0.1,"y":2.505},{"m":1,"x":0.125,"y":2.715},{"m":1,"x":0.15,"y":2.734},{"m":1,"x":0.175,"y":2.59},{"m":1,"x":0.2,"y":2.325},{"m":1,"x":0.25,"y":1.62},{"m":1,"x":0.3,"y":0.944},{"m":1,"x":0.35,"y":0.464},{"m":1,"x":0.4,"y":0.194},{"m":1,"x":0.45,"y":0.069},{"m":1,"x":0.5,"y":0.021},{"m":1,"x":0.55,"y":0.005},{"m":1,"x":0.6,"y":0.001},{"m":1,"x":0.65,"y":0},{"m":1,"x":1,"y":0},
{"m":2,"x":0,"y":0},{"m":2,"x":0.025,"y":0.616},{"m":2,"x":0.05,"y":1.219},{"m":2,"x":0.1,"y":2.325},{"m":2,"x":0.15,"y":3.134},{"m":2,"x":0.2,"y":3.449},{"m":2,"x":0.25,"y":3.198},{"m":2,"x":0.3,"y":2.519},{"m":2,"x":0.35,"y":1.689},{"m":2,"x":0.4,"y":0.965},{"m":2,"x":0.45,"y":0.47},{"m":2,"x":0.5,"y":0.195},{"m":2,"x":0.55,"y":0.069},{"m":2,"x":0.6,"y":0.021},{"m":2,"x":0.65,"y":0.005},{"m":2,"x":0.7,"y":0.001},{"m":2,"x":0.75,"y":0},{"m":2,"x":1,"y":0},
{"m":3,"x":0,"y":0},{"m":3,"x":0.025,"y":0.19},{"m":3,"x":0.05,"y":0.401},{"m":3,"x":0.1,"y":0.944},{"m":3,"x":0.15,"y":1.684},{"m":3,"x":0.2,"y":2.519},{"m":3,"x":0.25,"y":3.203},{"m":3,"x":0.3,"y":3.47},{"m":3,"x":0.35,"y":3.203},{"m":3,"x":0.4,"y":2.52},{"m":3,"x":0.45,"y":1.689},{"m":3,"x":0.5,"y":0.965},{"m":3,"x":0.55,"y":0.47},{"m":3,"x":0.6,"y":0.195},{"m":3,"x":0.65,"y":0.069},{"m":3,"x":0.7,"y":0.021},{"m":3,"x":0.75,"y":0.005},{"m":3,"x":0.8,"y":0.001},{"m":3,"x":0.85,"y":0},{"m":3,"x":1,"y":0},
{"m":4,"x":0,"y":0},{"m":4,"x":0.025,"y":0.028},{"m":4,"x":0.05,"y":0.064},{"m":4,"x":0.1,"y":0.194},{"m":4,"x":0.15,"y":0.469},{"m":4,"x":0.2,"y":0.965},{"m":4,"x":0.25,"y":1.689},{"m":4,"x":0.3,"y":2.52},{"m":4,"x":0.35,"y":3.203},{"m":4,"x":0.4,"y":3.47},{"m":4,"x":0.45,"y":3.203},{"m":4,"x":0.5,"y":2.52},{"m":4,"x":0.55,"y":1.689},{"m":4,"x":0.6,"y":0.965},{"m":4,"x":0.65,"y":0.47},{"m":4,"x":0.7,"y":0.195},{"m":4,"x":0.75,"y":0.069},{"m":4,"x":0.8,"y":0.021},{"m":4,"x":0.85,"y":0.005},{"m":4,"x":0.9,"y":0.001},{"m":4,"x":0.95,"y":0},{"m":4,"x":1,"y":0},
{"m":5,"x":0,"y":0},{"m":5,"x":0.05,"y":0.005},{"m":5,"x":0.1,"y":0.021},{"m":5,"x":0.15,"y":0.069},{"m":5,"x":0.2,"y":0.195},{"m":5,"x":0.25,"y":0.47},{"m":5,"x":0.3,"y":0.965},{"m":5,"x":0.35,"y":1.689},{"m":5,"x":0.4,"y":2.52},{"m":5,"x":0.45,"y":3.203},{"m":5,"x":0.5,"y":3.47},{"m":5,"x":0.55,"y":3.203},{"m":5,"x":0.6,"y":2.52},{"m":5,"x":0.65,"y":1.689},{"m":5,"x":0.7,"y":0.965},{"m":5,"x":0.75,"y":0.47},{"m":5,"x":0.8,"y":0.195},{"m":5,"x":0.85,"y":0.069},{"m":5,"x":0.9,"y":0.021},{"m":5,"x":0.95,"y":0.005},{"m":5,"x":1,"y":0},
{"m":6,"x":0,"y":0},{"m":6,"x":0.05,"y":0},{"m":6,"x":0.1,"y":0.001},{"m":6,"x":0.15,"y":0.005},{"m":6,"x":0.2,"y":0.021},{"m":6,"x":0.25,"y":0.069},{"m":6,"x":0.3,"y":0.195},{"m":6,"x":0.35,"y":0.47},{"m":6,"x":0.4,"y":0.965},{"m":6,"x":0.45,"y":1.689},{"m":6,"x":0.5,"y":2.52},{"m":6,"x":0.55,"y":3.203},{"m":6,"x":0.6,"y":3.47},{"m":6,"x":0.65,"y":3.203},{"m":6,"x":0.7,"y":2.52},{"m":6,"x":0.75,"y":1.689},{"m":6,"x":0.8,"y":0.965},{"m":6,"x":0.85,"y":0.469},{"m":6,"x":0.9,"y":0.194},{"m":6,"x":0.95,"y":0.064},{"m":6,"x":0.975,"y":0.028},{"m":6,"x":1,"y":0},
{"m":7,"x":0,"y":0},{"m":7,"x":0.15,"y":0},{"m":7,"x":0.2,"y":0.001},{"m":7,"x":0.25,"y":0.005},{"m":7,"x":0.3,"y":0.021},{"m":7,"x":0.35,"y":0.069},{"m":7,"x":0.4,"y":0.195},{"m":7,"x":0.45,"y":0.47},{"m":7,"x":0.5,"y":0.965},{"m":7,"x":0.55,"y":1.689},{"m":7,"x":0.6,"y":2.52},{"m":7,"x":0.65,"y":3.203},{"m":7,"x":0.7,"y":3.47},{"m":7,"x":0.75,"y":3.203},{"m":7,"x":0.8,"y":2.519},{"m":7,"x":0.85,"y":1.684},{"m":7,"x":0.9,"y":0.944},{"m":7,"x":0.95,"y":0.401},{"m":7,"x":0.975,"y":0.19},{"m":7,"x":1,"y":0},
{"m":8,"x":0,"y":0},{"m":8,"x":0.25,"y":0},{"m":8,"x":0.3,"y":0.001},{"m":8,"x":0.35,"y":0.005},{"m":8,"x":0.4,"y":0.021},{"m":8,"x":0.45,"y":0.069},{"m":8,"x":0.5,"y":0.195},{"m":8,"x":0.55,"y":0.47},{"m":8,"x":0.6,"y":0.965},{"m":8,"x":0.65,"y":1.689},{"m":8,"x":0.7,"y":2.519},{"m":8,"x":0.75,"y":3.198},{"m":8,"x":0.8,"y":3.449},{"m":8,"x":0.85,"y":3.134},{"m":8,"x":0.9,"y":2.325},{"m":8,"x":0.95,"y":1.219},{"m":8,"x":0.975,"y":0.616},{"m":8,"x":1,"y":0},
{"m":9,"x":0,"y":0},{"m":9,"x":0.35,"y":0},{"m":9,"x":0.4,"y":0.001},{"m":9,"x":0.45,"y":0.005},{"m":9,"x":0.5,"y":0.021},{"m":9,"x":0.55,"y":0.069},{"m":9,"x":0.6,"y":0.194},{"m":9,"x":0.65,"y":0.464},{"m":9,"x":0.7,"y":0.944},{"m":9,"x":0.75,"y":1.62},{"m":9,"x":0.8,"y":2.325},{"m":9,"x":0.825,"y":2.59},{"m":9,"x":0.85,"y":2.734},{"m":9,"x":0.875,"y":2.715},{"m":9,"x":0.9,"y":2.505},{"m":9,"x":0.925,"y":2.099},{"m":9,"x":0.95,"y":1.514},{"m":9,"x":0.975,"y":0.794},{"m":9,"x":1,"y":0}
]
},
"concat": [
 {"width": 264.6, "height": 166.7, "data": {"name": "p1"},
  "mark": {"type": "line", "interpolate": "monotone", "strokeWidth": 1.5, "clip": true},
  "encoding": {
   "x": {"field": "x", "type": "quantitative", "scale": {"domain": [0, 1], "nice": false, "zero": false},
     "axis": {"values": [0.05,0.1,0.15,0.2,0.25,0.3,0.35,0.4,0.45,0.5,0.55,0.6,0.65,0.7,0.75,0.8,0.85,0.9,0.95,1], "labelExpr": "abs(datum.value*5-round(datum.value*5))<1e-6 ? format(datum.value,'.1f') : ''", "tickSize": {"condition": {"test": "abs(datum.value*5-round(datum.value*5))<1e-6", "value": -4}, "value": -2.5}}},
   "y": {"field": "y", "type": "quantitative", "scale": {"domain": [0, 5.58], "nice": false},
     "axis": {"values": [0.2,0.4,0.6,0.8,1,1.2,1.4,1.6,1.8,2,2.2,2.4,2.6,2.8,3,3.2,3.4,3.6,3.8,4,4.2,4.4,4.6,4.8,5,5.2,5.4], "labelExpr": "abs(datum.value-round(datum.value))<1e-6 ? format(datum.value,'d') : ''", "tickSize": {"condition": {"test": "abs(datum.value-round(datum.value))<1e-6", "value": -4}, "value": -2.5}}},
   "color": {"field": "m", "type": "nominal", "legend": null, "scale": {"domain": [1,2,3,4,5,6,7,8,9], "range": ["#993D71","#998B3D","#3D9956","#3D5A99","#993D90","#996D3D","#43993D","#3D7999","#843D99"]}}
  }},
 {"width": 259.3, "height": 166.7, "data": {"name": "p2"},
  "mark": {"type": "line", "interpolate": "monotone", "strokeWidth": 1.5, "clip": true},
  "encoding": {
   "x": {"field": "x", "type": "quantitative", "scale": {"domain": [0, 1], "nice": false, "zero": false},
     "axis": {"values": [0.05,0.1,0.15,0.2,0.25,0.3,0.35,0.4,0.45,0.5,0.55,0.6,0.65,0.7,0.75,0.8,0.85,0.9,0.95,1], "labelExpr": "abs(datum.value*5-round(datum.value*5))<1e-6 ? format(datum.value,'.1f') : ''", "tickSize": {"condition": {"test": "abs(datum.value*5-round(datum.value*5))<1e-6", "value": -4}, "value": -2.5}}},
   "y": {"field": "y", "type": "quantitative", "scale": {"domain": [0, 3.126], "nice": false},
     "axis": {"values": [0.1,0.2,0.3,0.4,0.5,0.6,0.7,0.8,0.9,1,1.1,1.2,1.3,1.4,1.5,1.6,1.7,1.8,1.9,2,2.1,2.2,2.3,2.4,2.5,2.6,2.7,2.8,2.9,3,3.1], "labelExpr": "abs(datum.value*2-round(datum.value*2))<1e-6 ? format(datum.value,'.1f') : ''", "tickSize": {"condition": {"test": "abs(datum.value*2-round(datum.value*2))<1e-6", "value": -4}, "value": -2.5}}},
   "color": {"field": "m", "type": "nominal", "legend": null, "scale": {"domain": [1,2,3,4,5,6,7,8,9], "range": ["#993D71","#998B3D","#3D9956","#3D5A99","#993D90","#996D3D","#43993D","#3D7999","#843D99"]}}
  }},
 {"width": 256.7, "height": 166.7, "data": {"name": "p3"},
  "mark": {"type": "line", "interpolate": "monotone", "strokeWidth": 1.5, "clip": true},
  "encoding": {
   "x": {"field": "x", "type": "quantitative", "scale": {"domain": [0, 0.979], "nice": false, "zero": false},
     "axis": {"values": [0.05,0.1,0.15,0.2,0.25,0.3,0.35,0.4,0.45,0.5,0.55,0.6,0.65,0.7,0.75,0.8,0.85,0.9,0.95], "labelExpr": "abs(datum.value*5-round(datum.value*5))<1e-6 ? format(datum.value,'.1f') : ''", "tickSize": {"condition": {"test": "abs(datum.value*5-round(datum.value*5))<1e-6", "value": -4}, "value": -2.5}}},
   "y": {"field": "y", "type": "quantitative", "scale": {"domain": [0, 2.566], "nice": false},
     "axis": {"values": [0.1,0.2,0.3,0.4,0.5,0.6,0.7,0.8,0.9,1,1.1,1.2,1.3,1.4,1.5,1.6,1.7,1.8,1.9,2,2.1,2.2,2.3,2.4,2.5], "labelExpr": "abs(datum.value*2-round(datum.value*2))<1e-6 ? format(datum.value,'.1f') : ''", "tickSize": {"condition": {"test": "abs(datum.value*2-round(datum.value*2))<1e-6", "value": -4}, "value": -2.5}}},
   "color": {"field": "m", "type": "nominal", "legend": null, "scale": {"domain": [1,2,3,4,5,6,7,8,9], "range": ["#993D71","#998B3D","#3D9956","#3D5A99","#993D90","#996D3D","#43993D","#3D7999","#843D99"]}}
  }},
 {"width": 264.6, "height": 164.3, "data": {"name": "p4"},
  "mark": {"type": "line", "interpolate": "monotone", "strokeWidth": 1.5, "clip": true},
  "encoding": {
   "x": {"field": "x", "type": "quantitative", "scale": {"domain": [-0.0177, 1], "nice": false, "zero": false},
     "axis": {"values": [0.05,0.1,0.15,0.2,0.25,0.3,0.35,0.4,0.45,0.5,0.55,0.6,0.65,0.7,0.75,0.8,0.85,0.9,0.95,1], "labelExpr": "abs(datum.value*5-round(datum.value*5))<1e-6 ? format(datum.value,'.1f') : ''", "tickSize": {"condition": {"test": "abs(datum.value*5-round(datum.value*5))<1e-6", "value": -4}, "value": -2.5}}},
   "y": {"field": "y", "type": "quantitative", "scale": {"domain": [0, 2.097], "nice": false},
     "axis": {"offset": -4.6, "values": [0.1,0.2,0.3,0.4,0.5,0.6,0.7,0.8,0.9,1,1.1,1.2,1.3,1.4,1.5,1.6,1.7,1.8,1.9,2], "labelExpr": "abs(datum.value*2-round(datum.value*2))<1e-6 ? format(datum.value,'.1f') : ''", "tickSize": {"condition": {"test": "abs(datum.value*2-round(datum.value*2))<1e-6", "value": -4}, "value": -2.5}}},
   "color": {"field": "m", "type": "nominal", "legend": null, "scale": {"domain": [1,2,3,4,5,6,7,8,9], "range": ["#993D71","#998B3D","#3D9956","#3D5A99","#993D90","#996D3D","#43993D","#3D7999","#843D99"]}}
  }},
 {"width": 259.3, "height": 164.3, "data": {"name": "p5"},
  "mark": {"type": "line", "interpolate": "monotone", "strokeWidth": 1.5, "clip": true},
  "encoding": {
   "x": {"field": "x", "type": "quantitative", "scale": {"domain": [0, 1], "nice": false, "zero": false},
     "axis": {"values": [0.05,0.1,0.15,0.2,0.25,0.3,0.35,0.4,0.45,0.5,0.55,0.6,0.65,0.7,0.75,0.8,0.85,0.9,0.95,1], "labelExpr": "abs(datum.value*5-round(datum.value*5))<1e-6 ? format(datum.value,'.1f') : ''", "tickSize": {"condition": {"test": "abs(datum.value*5-round(datum.value*5))<1e-6", "value": -4}, "value": -2.5}}},
   "y": {"field": "y", "type": "quantitative", "scale": {"domain": [0, 2.86], "nice": false},
     "axis": {"values": [0.1,0.2,0.3,0.4,0.5,0.6,0.7,0.8,0.9,1,1.1,1.2,1.3,1.4,1.5,1.6,1.7,1.8,1.9,2,2.1,2.2,2.3,2.4,2.5,2.6,2.7,2.8], "labelExpr": "abs(datum.value*2-round(datum.value*2))<1e-6 ? format(datum.value,'.1f') : ''", "tickSize": {"condition": {"test": "abs(datum.value*2-round(datum.value*2))<1e-6", "value": -4}, "value": -2.5}}},
   "color": {"field": "m", "type": "nominal", "legend": null, "scale": {"domain": [1,2,3,4,5,6,7,8,9], "range": ["#993D71","#998B3D","#3D9956","#3D5A99","#993D90","#996D3D","#43993D","#3D7999","#843D99"]}}
  }},
 {"width": 256.7, "height": 164.3, "data": {"name": "p6"},
  "mark": {"type": "line", "interpolate": "monotone", "strokeWidth": 1.5, "clip": true},
  "encoding": {
   "x": {"field": "x", "type": "quantitative", "scale": {"domain": [0, 0.979], "nice": false, "zero": false},
     "axis": {"values": [0.05,0.1,0.15,0.2,0.25,0.3,0.35,0.4,0.45,0.5,0.55,0.6,0.65,0.7,0.75,0.8,0.85,0.9,0.95], "labelExpr": "abs(datum.value*5-round(datum.value*5))<1e-6 ? format(datum.value,'.1f') : ''", "tickSize": {"condition": {"test": "abs(datum.value*5-round(datum.value*5))<1e-6", "value": -4}, "value": -2.5}}},
   "y": {"field": "y", "type": "quantitative", "scale": {"domain": [0, 3.549], "nice": false},
     "axis": {"values": [0.1,0.2,0.3,0.4,0.5,0.6,0.7,0.8,0.9,1,1.1,1.2,1.3,1.4,1.5,1.6,1.7,1.8,1.9,2,2.1,2.2,2.3,2.4,2.5,2.6,2.7,2.8,2.9,3,3.1,3.2,3.3,3.4,3.5], "labelExpr": "abs(datum.value*2-round(datum.value*2))<1e-6 ? format(datum.value,'.1f') : ''", "tickSize": {"condition": {"test": "abs(datum.value*2-round(datum.value*2))<1e-6", "value": -4}, "value": -2.5}}},
   "color": {"field": "m", "type": "nominal", "legend": null, "scale": {"domain": [1,2,3,4,5,6,7,8,9], "range": ["#993D71","#998B3D","#3D9956","#3D5A99","#993D90","#996D3D","#43993D","#3D7999","#843D99"]}}
  }}
]
}
